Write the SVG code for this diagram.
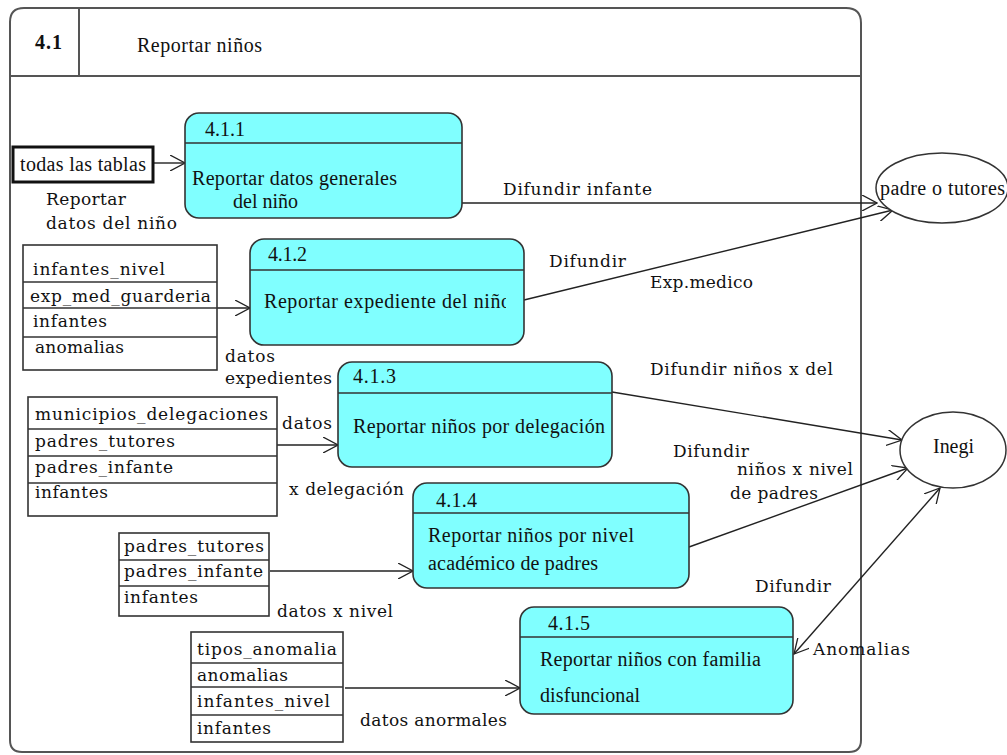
<svg xmlns="http://www.w3.org/2000/svg" width="1007" height="755" viewBox="0 0 1007 755">
<style>
  text { fill: #111; }
  .p { font-family: 'Liberation Serif', serif; font-size: 20px; }
  .t { font-family: 'DejaVu Serif', serif; font-size: 17px; }
  .l { font-family: 'DejaVu Serif', serif; font-size: 17px; }
  .proc { fill: #80ffff; stroke: #333; stroke-width: 1.6; }
  .hdr { stroke: #333; stroke-width: 1.6; }
  .tbl { fill: #fff; stroke: #333; stroke-width: 1.6; }
  .row { stroke: #333; stroke-width: 1.4; }
  .ext { fill: #fff; stroke: #333; stroke-width: 1.5; }
  .conn { fill: none; stroke: #222; stroke-width: 1.4; }
  .frame { fill: none; stroke: #555; stroke-width: 2; }
</style>
<defs>
  <marker id="arr" viewBox="0 0 16 16" refX="15" refY="8" markerWidth="16" markerHeight="16" markerUnits="userSpaceOnUse" orient="auto-start-reverse">
    <path d="M0,0 L15,8 L0,16" fill="none" stroke="#222" stroke-width="1.3"/>
  </marker>
  <clipPath id="clip412"><rect x="250" y="270" width="256" height="75"/></clipPath>
</defs>

<g id="frame">
  <path class="frame" d="M24,8 L846,8 Q861,8 861,23 L861,740 Q861,752 849,752 L22,752 Q10,752 10,740 L10,22 Q10,8 24,8 Z"/>
  <line class="frame" x1="10" y1="76" x2="861" y2="76"/>
  <line class="frame" x1="79" y1="8" x2="79" y2="76"/>
  <text x="35" y="49" class="p" font-weight="bold" textLength="27">4.1</text>
  <text x="137" y="52" class="p" textLength="125">Reportar niños</text>
</g>

<g id="connectors">
  <line class="conn" x1="153" y1="163" x2="185" y2="163" marker-end="url(#arr)"/>
  <line class="conn" x1="217" y1="308" x2="250" y2="308" marker-end="url(#arr)"/>
  <line class="conn" x1="277" y1="445" x2="338" y2="445" marker-end="url(#arr)"/>
  <line class="conn" x1="270" y1="571" x2="413" y2="571" marker-end="url(#arr)"/>
  <line class="conn" x1="345" y1="688" x2="520" y2="688" marker-end="url(#arr)"/>
  <line class="conn" x1="462" y1="203" x2="877" y2="203" marker-end="url(#arr)"/>
  <line class="conn" x1="524" y1="300" x2="893" y2="210" marker-end="url(#arr)"/>
  <line class="conn" x1="612" y1="392" x2="902" y2="440" marker-end="url(#arr)"/>
  <line class="conn" x1="689" y1="547" x2="908" y2="468" marker-end="url(#arr)"/>
  <line class="conn" x1="794" y1="654" x2="940" y2="488" marker-start="url(#arr)" marker-end="url(#arr)"/>
  <text x="46" y="205" class="l" textLength="80">Reportar</text>
  <text x="46" y="229" class="l" textLength="131">datos del niño</text>
  <text x="503" y="195" class="l" textLength="149">Difundir  infante</text>
  <text x="549" y="267" class="l" textLength="77">Difundir</text>
  <text x="650" y="288" class="l" textLength="103">Exp.medico</text>
  <text x="225" y="362" class="l" textLength="50">datos</text>
  <text x="225" y="384" class="l" textLength="107">expedientes</text>
  <text x="282" y="429" class="l" textLength="50">datos</text>
  <text x="289" y="495" class="l" textLength="115">x delegación</text>
  <text x="277" y="617" class="l" textLength="116">datos x nivel</text>
  <text x="360" y="726" class="l" textLength="147">datos anormales</text>
  <text x="650" y="375" class="l" textLength="183">Difundir niños x del</text>
  <text x="673" y="457" class="l" textLength="76">Difundir</text>
  <text x="737" y="475" class="l" textLength="116">niños x nivel</text>
  <text x="730" y="499" class="l" textLength="88">de padres</text>
  <text x="755" y="592" class="l" textLength="76">Difundir</text>
  <text x="813" y="655" class="l" textLength="97">Anomalias</text>
</g>

<g id="store-todas">
  <rect x="13" y="147" width="140" height="35" fill="#fff" stroke="#111" stroke-width="3"/>
  <text x="20" y="171" class="p" font-size="18" textLength="126">todas las tablas</text>
</g>

<g id="table-1">
  <rect class="tbl" x="23" y="245" width="194" height="125"/>
  <line class="row" x1="23" y1="282" x2="217" y2="282"/>
  <line class="row" x1="23" y1="308" x2="217" y2="308"/>
  <line class="row" x1="23" y1="337" x2="217" y2="337"/>
  <text x="33" y="275" class="t" textLength="132">infantes_nivel</text>
  <text x="30" y="302" class="t" textLength="181">exp_med_guarderia</text>
  <text x="33" y="327" class="t" textLength="74">infantes</text>
  <text x="35" y="353" class="t" textLength="89">anomalias</text>
</g>

<g id="table-2">
  <rect class="tbl" x="28" y="397" width="249" height="119"/>
  <line class="row" x1="28" y1="429" x2="277" y2="429"/>
  <line class="row" x1="28" y1="456" x2="277" y2="456"/>
  <line class="row" x1="28" y1="483" x2="277" y2="483"/>
  <text x="35" y="420" class="t" textLength="233">municipios_delegaciones</text>
  <text x="35" y="447" class="t" textLength="140">padres_tutores</text>
  <text x="35" y="473" class="t" textLength="138">padres_infante</text>
  <text x="35" y="498" class="t" textLength="73">infantes</text>
</g>

<g id="table-3">
  <rect class="tbl" x="119" y="533" width="150" height="83"/>
  <line class="row" x1="119" y1="560" x2="269" y2="560"/>
  <line class="row" x1="119" y1="586" x2="269" y2="586"/>
  <text x="124" y="552" class="t" textLength="140">padres_tutores</text>
  <text x="124" y="577" class="t" textLength="139">padres_infante</text>
  <text x="124" y="603" class="t" textLength="74">infantes</text>
</g>

<g id="table-4">
  <rect class="tbl" x="191" y="632" width="152" height="110"/>
  <line class="row" x1="191" y1="663" x2="343" y2="663"/>
  <line class="row" x1="191" y1="687" x2="343" y2="687"/>
  <line class="row" x1="191" y1="715" x2="343" y2="715"/>
  <text x="197" y="655" class="t" textLength="140">tipos_anomalia</text>
  <text x="197" y="681" class="t" textLength="91">anomalias</text>
  <text x="197" y="707" class="t" textLength="133">infantes_nivel</text>
  <text x="197" y="734" class="t" textLength="74">infantes</text>
</g>

<g id="p411">
  <rect class="proc" x="185" y="113" width="277" height="105" rx="14"/>
  <line class="hdr" x1="185" y1="143" x2="462" y2="143"/>
  <text x="205" y="136" class="p" textLength="40">4.1.1</text>
  <text x="192" y="185" class="p" textLength="205">Reportar datos generales</text>
  <text x="233" y="208" class="p" textLength="65">del niño</text>
</g>

<g id="p412">
  <rect class="proc" x="250" y="239" width="274" height="106" rx="14"/>
  <line class="hdr" x1="250" y1="270" x2="524" y2="270"/>
  <text x="268" y="261" class="p" textLength="39">4.1.2</text>
  <text x="264" y="308" class="p" textLength="247" clip-path="url(#clip412)">Reportar expediente del niño</text>
</g>

<g id="p413">
  <rect class="proc" x="338" y="362" width="274" height="105" rx="14"/>
  <line class="hdr" x1="338" y1="393" x2="612" y2="393"/>
  <text x="353" y="383" class="p" textLength="43">4.1.3</text>
  <text x="353" y="433" class="p" textLength="252">Reportar niños por delegación</text>
</g>

<g id="p414">
  <rect class="proc" x="413" y="483" width="276" height="105" rx="14"/>
  <line class="hdr" x1="413" y1="513" x2="689" y2="513"/>
  <text x="436" y="507" class="p" textLength="41">4.1.4</text>
  <text x="428" y="542" class="p" textLength="206">Reportar niños por nivel</text>
  <text x="428" y="570" class="p" textLength="170">académico de padres</text>
</g>

<g id="p415">
  <rect class="proc" x="520" y="607" width="273" height="107" rx="14"/>
  <line class="hdr" x1="520" y1="637" x2="793" y2="637"/>
  <text x="548" y="630" class="p" textLength="42">4.1.5</text>
  <text x="540" y="666" class="p" textLength="221">Reportar niños con familia</text>
  <text x="540" y="702" class="p" textLength="100">disfuncional</text>
</g>

<g id="ext-padre">
  <ellipse class="ext" cx="942" cy="188" rx="66" ry="35"/>
  <text x="880" y="195" class="p" font-size="18" textLength="125">padre o tutores</text>
</g>

<g id="ext-inegi">
  <ellipse class="ext" cx="953" cy="450" rx="53" ry="38"/>
  <text x="933" y="453" class="p" font-size="18" textLength="41">Inegi</text>
</g>
</svg>
